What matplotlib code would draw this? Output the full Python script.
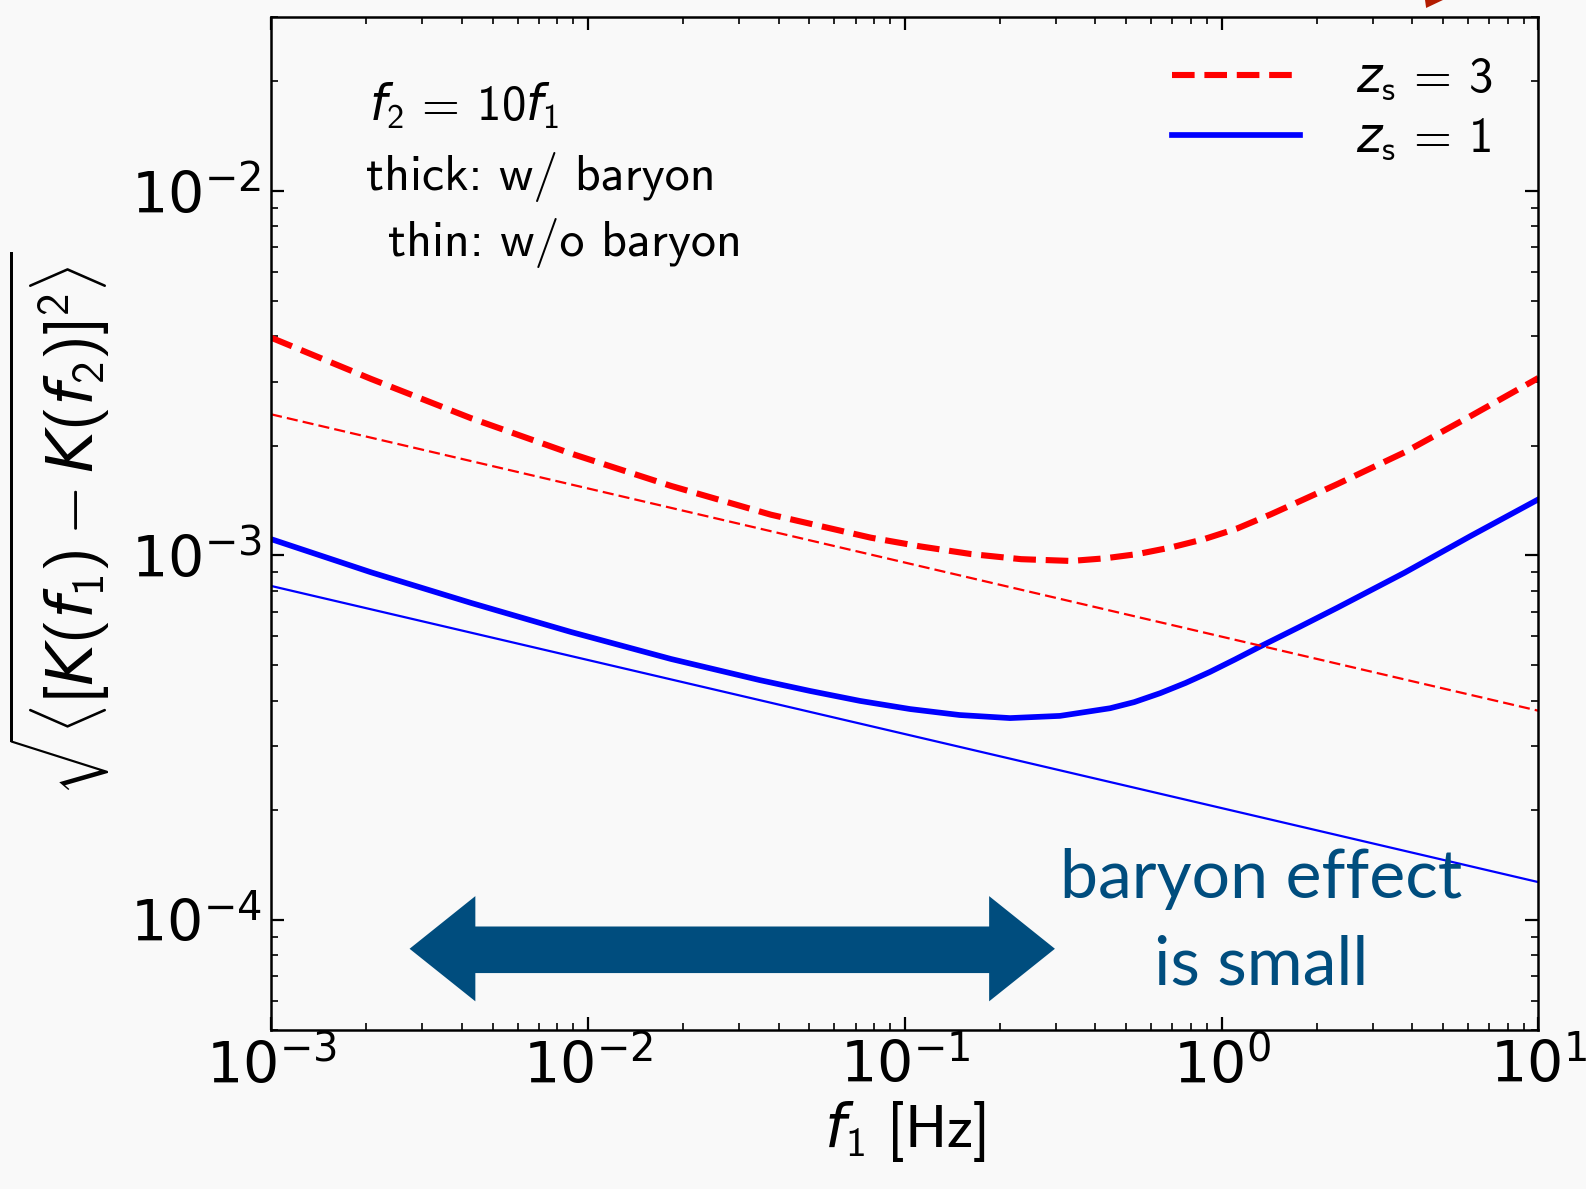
import matplotlib
matplotlib.use('Agg')
import matplotlib.pyplot as plt
from matplotlib.patches import Polygon

plt.rcParams['mathtext.fontset'] = 'custom'
plt.rcParams['mathtext.rm'] = 'cmss10'
plt.rcParams['mathtext.it'] = 'Liberation Sans Narrow:italic'
plt.rcParams['mathtext.bf'] = 'cmss10'
plt.rcParams['axes.formatter.use_mathtext'] = True

# dados lidos da figura
# z_s = 3, com barions (linha grossa tracejada)
f_zs3 = [1.0e-3, 2.07e-3, 4.28e-3, 8.83e-3, 1.83e-2, 3.78e-2, 7.82e-2, 0.112, 0.162, 0.233,
         0.335, 0.427, 0.543, 0.692, 0.881, 1.12, 1.43, 1.82, 2.32, 3.78, 6.12, 10.0]
zs3_barion = [3.96e-3, 3.05e-3, 2.38e-3, 1.905e-3, 1.552e-3, 1.294e-3, 1.119e-3, 1.059e-3,
              1.009e-3, 9.77e-4, 9.66e-4, 9.82e-4, 1.009e-3, 1.052e-3, 1.109e-3, 1.186e-3,
              1.297e-3, 1.426e-3, 1.570e-3, 1.919e-3, 2.415e-3, 3.069e-3]

# z_s = 1, com barions (linha grossa continua)
f_zs1 = [1.0e-3, 2.07e-3, 4.28e-3, 8.83e-3, 1.83e-2, 3.49e-2, 5.02e-2, 7.23e-2, 0.104, 0.149,
         0.215, 0.309, 0.445, 0.53, 0.640, 0.77, 0.918, 1.1, 1.32, 1.75, 2.32, 3.78, 6.12, 10.0]
zs1_barion = [1.109e-3, 8.99e-4, 7.41e-4, 6.17e-4, 5.20e-4, 4.55e-4, 4.25e-4, 3.99e-4, 3.79e-4,
              3.65e-4, 3.58e-4, 3.63e-4, 3.81e-4, 3.96e-4, 4.19e-4, 4.47e-4, 4.79e-4, 5.18e-4,
              5.62e-4, 6.35e-4, 7.19e-4, 8.97e-4, 1.132e-3, 1.426e-3]

# sem barions (linhas finas, retas em log-log)
f_ext = [1e-3, 10.0]
zs3_sem = [2.44e-3, 3.75e-4]
zs1_sem = [8.25e-4, 1.27e-4]

fundo = '#f9f9f9'
azul_texto = '#004d7e'

fig = plt.figure(figsize=(15.86, 11.89), dpi=100, facecolor=fundo)
ax = fig.add_axes([0.1709, 0.1340, 0.7991, 0.8516], facecolor=fundo)

ax.plot(f_zs3, zs3_barion, color='red', lw=4.4, ls='--', label=r'$z_{\rm s}\,=\,3$')
ax.plot(f_zs1, zs1_barion, color='blue', lw=4.1, label=r'$z_{\rm s}\,=\,1$')
ax.plot(f_ext, zs3_sem, color='red', lw=1.6, dashes=(5, 2.3))
ax.plot(f_ext, zs1_sem, color='blue', lw=1.6)

ax.set_xscale('log')
ax.set_yscale('log')
ax.set_xlim(1e-3, 10)
ax.set_ylim(5e-5, 3e-2)

for s in ax.spines.values():
    s.set_linewidth(1.8)
ax.tick_params(which='both', direction='in', top=True, right=True, labelsize=41)
ax.tick_params(which='major', length=9.5, width=1.6, pad=7)
ax.tick_params(which='minor', length=5, width=1.2)

ax.set_xlabel(r'$f_1\ [\mathrm{Hz}]$', fontsize=43, labelpad=2)
ax.set_ylabel(r'$\sqrt{\langle [K(f_1) - K(f_2)]^2 \rangle}$', fontsize=46, labelpad=13)

ax.text(0.077, 0.912, r'$f_2\,=\,10 f_1$', transform=ax.transAxes, fontsize=35, va='center')
ax.text(0.075, 0.842, 'thick: w/ baryon', transform=ax.transAxes, fontsize=36,
        va='center', family='cmss10')
ax.text(0.0926, 0.777, 'thin: w/o baryon', transform=ax.transAxes, fontsize=36,
        va='center', family='cmss10')

ax.legend(loc='upper right', bbox_to_anchor=(0.993, 1.0), frameon=False, fontsize=35,
          handlelength=2.65, handletextpad=1.15, labelspacing=0.25, borderaxespad=0.35)

# seta dupla "baryon effect is small"
seta = [(0.1093, 0.0799), (0.1612, 0.1319), (0.1612, 0.1019), (0.5666, 0.1019),
        (0.5666, 0.1319), (0.6185, 0.0799), (0.5666, 0.0280), (0.5666, 0.0559),
        (0.1612, 0.0559), (0.1612, 0.0280)]
ax.add_patch(Polygon(seta, closed=True, transform=ax.transAxes, color=azul_texto, lw=0))
ax.text(0.7815, 0.130, 'baryon effect', transform=ax.transAxes, fontsize=49,
        ha='center', va='baseline', color=azul_texto, family='Lato')
ax.text(0.7815, 0.045, 'is small', transform=ax.transAxes, fontsize=49,
        ha='center', va='baseline', color=azul_texto, family='Lato')

# pedaco da seta vermelha no topo
fig.patches.append(Polygon([(0.8985, 1.0), (0.9098, 1.0), (0.8992, 0.9933)], closed=True,
                           transform=fig.transFigure, color='#b31b00', lw=0))

fig.savefig('out.png', dpi=100, facecolor=fundo)
